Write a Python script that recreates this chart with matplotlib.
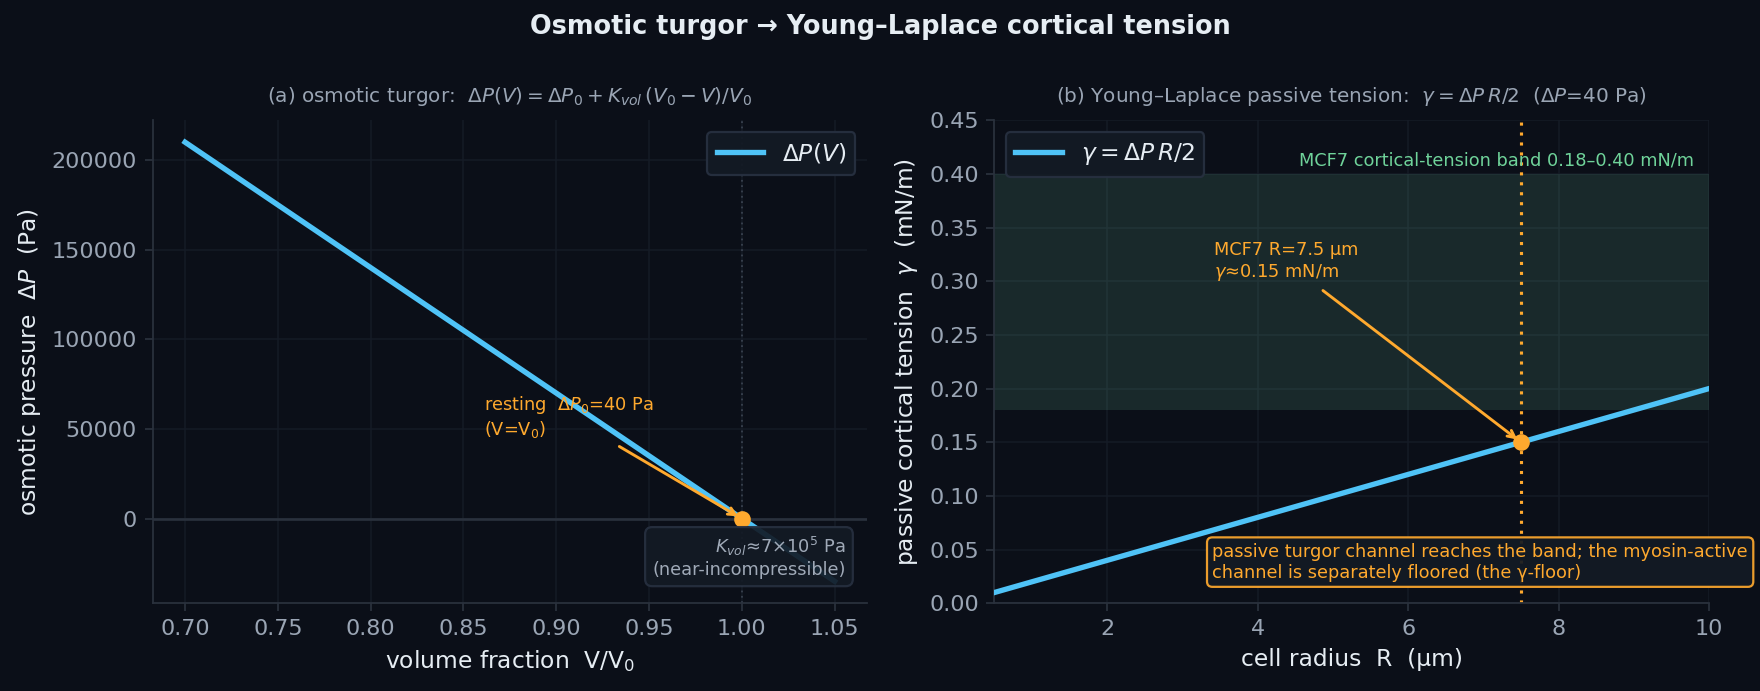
import numpy as np
import matplotlib
matplotlib.use("Agg")
import matplotlib.pyplot as plt

# ---- data -------------------------------------------------------------
dP0 = 40.0            # resting turgor (Pa)
K_vol = 7e5           # volumetric modulus (Pa)
v_frac = np.linspace(0.70, 1.05, 200)
dP = dP0 + K_vol * (1.0 - v_frac)

radius = np.linspace(0.5, 10.0, 200)            # um
gamma = dP0 * radius * 1e-6 / 2 * 1e3           # mN/m
R_mcf7 = 7.5
gamma_mcf7 = dP0 * R_mcf7 * 1e-6 / 2 * 1e3
band = (0.18, 0.40)

v_ticks = [0.70, 0.75, 0.80, 0.85, 0.90, 0.95, 1.00, 1.05]
r_ticks = [2, 4, 6, 8, 10]
g_ticks = [0.00, 0.05, 0.10, 0.15, 0.20, 0.25, 0.30, 0.35, 0.40, 0.45]

# ---- style ------------------------------------------------------------
BG = "#0b0f18"
GRID = "#151b26"
SPINE = "#2a313d"
TICK = "#9aa5b4"
LABEL = "#e6edf3"
BLUE = "#4fc3f7"
ORANGE = "#ffa92e"
GREEN = "#6fd39a"
BOXFACE = "#131a24"

plt.rcParams["font.family"] = ["DejaVu Sans"]
plt.rcParams["mathtext.fontset"] = "dejavusans"

fig = plt.figure(figsize=(11, 4.31875), dpi=160, facecolor=BG)
ax1 = fig.add_axes([0.0867, 0.127, 0.406, 0.699])
ax2 = fig.add_axes([0.565, 0.127, 0.406, 0.699])


def style(ax):
    ax.set_facecolor(BG)
    for s in ax.spines.values():
        s.set_color(SPINE)
    ax.spines["top"].set_visible(False)
    ax.spines["right"].set_visible(False)
    ax.tick_params(colors=SPINE, labelcolor=TICK, labelsize=10)
    ax.grid(True, color=GRID, linewidth=0.7)
    ax.set_axisbelow(True)


style(ax1)
style(ax2)

# ---- (a) osmotic turgor ----------------------------------------------
ax1.axhline(0, color=SPINE, linewidth=1.2, zorder=1)
ax1.axvline(1.0, color="#3a4250", linewidth=0.8, linestyle=(0, (1, 2)), zorder=1)
ax1.plot(v_frac, dP, color=BLUE, linewidth=2.4, label=r"$\Delta P(V)$", zorder=3)
ax1.plot([1.0], [dP0], "o", color=ORANGE, markersize=6.5, zorder=5)
ax1.annotate("resting  $\\Delta P_0$=40 Pa\n(V=V$_0$)", xy=(1.0, dP0),
             xytext=(0.861, 44000), color=ORANGE, fontsize=8,
             ha="left", va="bottom",
             arrowprops=dict(arrowstyle="->", color=ORANGE, lw=1.3), zorder=6)
ax1.text(0.97, 0.05, "$K_{vol}$≈7×10$^5$ Pa\n(near-incompressible)",
         transform=ax1.transAxes, ha="right", va="bottom", multialignment="right",
         color="#a0aab8", fontsize=8, zorder=6,
         bbox=dict(boxstyle="round,pad=0.4", facecolor=BOXFACE, edgecolor="#273040",
                   alpha=0.92))
ax1.set_xticks(v_ticks)
ax1.set_xlabel("volume fraction  V/V$_0$", color=LABEL, fontsize=10.5)
ax1.set_ylabel("osmotic pressure  $\\Delta P$  (Pa)", color=LABEL, fontsize=10.5)
ax1.set_title(r"(a) osmotic turgor:  $\Delta P(V) = \Delta P_0 + K_{vol}\,(V_0 - V)/V_0$",
              color=TICK, fontsize=9, pad=8)
ax1.legend(loc="upper right", fontsize=10.5, facecolor=BOXFACE, edgecolor="#273040",
           labelcolor=LABEL, framealpha=0.95)

# ---- (b) Young-Laplace passive tension -------------------------------
ax2.axhspan(band[0], band[1], color="#6fc39d", alpha=0.15, linewidth=0, zorder=1)
ax2.axvline(R_mcf7, color=ORANGE, linewidth=1.4, linestyle=(0, (1, 2.2)), zorder=2)
ax2.plot(radius, gamma, color=BLUE, linewidth=2.4, label=r"$\gamma = \Delta P\,R/2$", zorder=3)
ax2.plot([R_mcf7], [gamma_mcf7], "o", color=ORANGE, markersize=6.5, zorder=5)
ax2.text(9.8, 0.404, "MCF7 cortical-tension band 0.18–0.40 mN/m",
         color=GREEN, fontsize=8, ha="right", va="bottom")
ax2.annotate("MCF7 R=7.5 µm\n$\\gamma$≈0.15 mN/m", xy=(R_mcf7, gamma_mcf7),
             xytext=(3.42, 0.298), color=ORANGE, fontsize=8,
             ha="left", va="bottom",
             arrowprops=dict(arrowstyle="->", color=ORANGE, lw=1.3), zorder=6)
ax2.text(0.305, 0.045,
         "passive turgor channel reaches the band; the myosin-active\n"
         "channel is separately floored (the γ-floor)",
         transform=ax2.transAxes, ha="left", va="bottom", color=ORANGE, fontsize=8,
         zorder=6,
         bbox=dict(boxstyle="round,pad=0.3", facecolor=BOXFACE, edgecolor=ORANGE,
                   alpha=0.92))
ax2.set_xlim(0.5, 10)
ax2.set_ylim(0, 0.45)
ax2.set_xticks(r_ticks)
ax2.set_yticks(g_ticks)
ax2.set_xlabel("cell radius  R  (µm)", color=LABEL, fontsize=10.5)
ax2.set_ylabel("passive cortical tension  $\\gamma$  (mN/m)", color=LABEL, fontsize=10.5)
ax2.set_title(r"(b) Young–Laplace passive tension:  $\gamma = \Delta P\,R/2$  ($\Delta P$=40 Pa)",
              color=TICK, fontsize=9, pad=8)
ax2.legend(loc="upper left", fontsize=10.5, facecolor=BOXFACE, edgecolor="#273040",
           labelcolor=LABEL, framealpha=0.95)

fig.suptitle("Osmotic turgor → Young–Laplace cortical tension", color=LABEL,
             fontsize=11.5, fontweight="bold", y=0.98)

fig.savefig("out.png", dpi=160, facecolor=BG)
